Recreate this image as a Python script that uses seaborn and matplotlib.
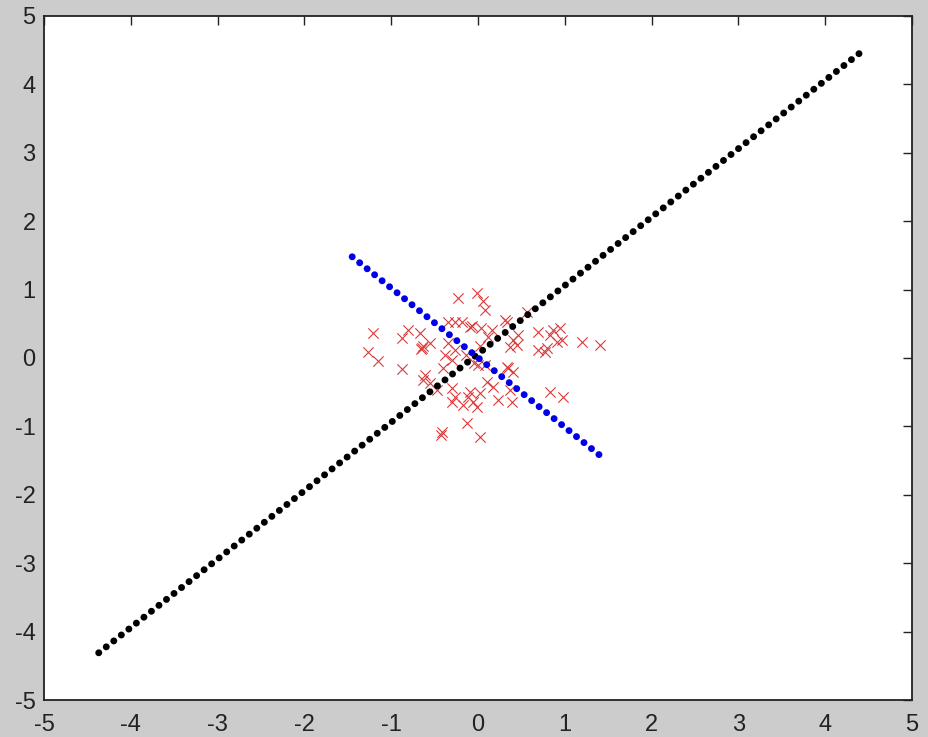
import matplotlib
matplotlib.use("Agg")
import matplotlib.pyplot as plt
import seaborn as sns
import pandas as pd

# end points of the two dotted direction lines
black_x = [-4.37, 4.40]
black_y = [-4.31, 4.46]
blue_x = [-1.45, 1.46]
blue_y = [1.48, -1.48]

# red sample points
pts_x = [-0.23, -0.01, 0.06, 0.08, -1.21, -0.81, -0.88, -0.67, -0.65, -0.63,
         -0.66, -0.55, -1.27, -1.15, -0.35, -0.26, -0.18, -0.09, -0.07, -0.35,
         -0.26, -0.38, -0.30, -0.88, 0.03, 0.16, 0.33, 0.31, 0.56, 0.40,
         0.46, 0.69, 0.86, 0.94, 0.83, 0.91, 0.97, 0.69, 0.79, 0.77,
         1.20, 1.41, 0.37, 0.45, -0.61, -0.63, -0.55, -0.47, -0.30, -0.26,
         -0.30, -0.12, -0.09, -0.06, 0.02, -0.17, -0.13, -0.41, -0.43, 0.02,
         0.35, 0.33, 0.40, 0.00, 0.08, 0.10, 0.17, 0.23, 0.39, 0.83,
         0.98, 0.37, -0.01, -0.40, 0.02, -0.05, -0.14, 0.12]
pts_y = [0.88, 0.95, 0.83, 0.70, 0.37, 0.41, 0.29, 0.37, 0.15, 0.17,
         0.13, 0.22, 0.09, -0.04, 0.53, 0.53, 0.53, 0.45, 0.47, 0.22,
         0.12, 0.04, -0.03, -0.16, 0.44, 0.41, 0.53, 0.55, 0.67, 0.26,
         0.34, 0.38, 0.41, 0.44, 0.34, 0.23, 0.26, 0.12, 0.15, 0.09,
         0.23, 0.19, 0.16, 0.19, -0.25, -0.32, -0.37, -0.47, -0.44, -0.57,
         -0.64, -0.57, -0.50, -0.64, -0.51, -0.69, -0.95, -1.08, -1.12, -1.15,
         -0.15, -0.13, -0.20, -0.10, -0.10, -0.35, -0.42, -0.61, -0.64, -0.50,
         -0.57, -0.47, -0.72, -0.15, 0.18, -0.08, 0.05, 0.30]

ticks = list(range(-5, 6))

sns.set_style("white")
plt.rcParams["font.family"] = ["Liberation Sans", "DejaVu Sans"]
plt.rcParams["axes.unicode_minus"] = False

fig = plt.figure(figsize=(9.29, 7.37), dpi=100, facecolor="#cccccc")
ax = fig.add_axes([0.0474, 0.0502, 0.9343, 0.9281])
ax.set_facecolor("white")

df = pd.DataFrame({"x": pts_x, "y": pts_y})
sns.scatterplot(data=df, x="x", y="y", marker="x", color="#dc3a3a",
                s=55, linewidth=0.8, ax=ax)

# dotted look: round-capped near-zero dashes
for xs, ys, col in [(black_x, black_y, "black"), (blue_x, blue_y, "#0000e6")]:
    sns.lineplot(x=xs, y=ys, color=col, sort=False, ax=ax)
    line = ax.lines[-1]
    line.set_linewidth(5.0)
    line.set_linestyle((0, (0.01, 1.37)))
    line.set_dash_capstyle("round")

ax.set_xlim(-5, 5)
ax.set_ylim(-5, 5)
ax.set_xticks(ticks)
ax.set_yticks(ticks)
ax.set_xlabel("")
ax.set_ylabel("")
ax.tick_params(direction="in", length=6.5, width=1, top=True, right=True,
               labelsize=17, colors="#222222")
ax.tick_params(axis="x", pad=10)
ax.tick_params(axis="y", pad=6)
for sp in ax.spines.values():
    sp.set_linewidth(1.3)
    sp.set_color("#222222")

fig.savefig("out.png", dpi=100, facecolor=fig.get_facecolor())
